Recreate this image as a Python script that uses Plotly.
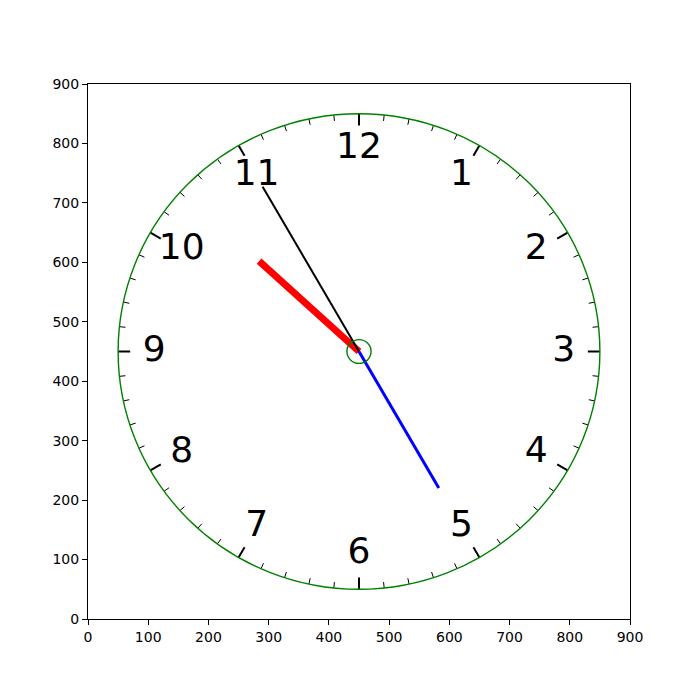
import math
import plotly.graph_objects as go

# Clock data
center = [450, 450]
clock_radius = 400
hour_labels = ["12", "1", "2", "3", "4", "5", "6", "7", "8", "9", "10", "11"]
label_radius = 340
n_ticks = 60
major_tick_len = 20
minor_tick_len = 10
hand_names = ["hour", "minute", "second"]
hand_angles_deg = [312.5, 150, 330]   # clockwise from 12 o'clock
hand_lengths = [225, 265, 320]
hand_colors = ["red", "blue", "black"]
hand_widths = [7, 3, 2]
hub_radius = 20
axis_ticks = [0, 100, 200, 300, 400, 500, 600, 700, 800, 900]

cx, cy = center
fig = go.Figure()

# tick marks
maj_x, maj_y, min_x, min_y = [], [], [], []
for i in range(n_ticks):
    a = math.radians(i * 6)
    L = major_tick_len if i % 5 == 0 else minor_tick_len
    r0, r1 = clock_radius - L, clock_radius
    xs = [cx + r0 * math.sin(a), cx + r1 * math.sin(a), None]
    ys = [cy + r0 * math.cos(a), cy + r1 * math.cos(a), None]
    if i % 5 == 0:
        maj_x += xs; maj_y += ys
    else:
        min_x += xs; min_y += ys
fig.add_trace(go.Scatter(x=min_x, y=min_y, mode="lines", line=dict(color="black", width=1), hoverinfo="skip"))
fig.add_trace(go.Scatter(x=maj_x, y=maj_y, mode="lines", line=dict(color="black", width=2), hoverinfo="skip"))

# hour labels
lx, ly = [], []
for i, lab in enumerate(hour_labels):
    a = math.radians(i * 30)
    lx.append(cx + label_radius * math.sin(a))
    ly.append(cy + label_radius * math.cos(a))
fig.add_trace(go.Scatter(x=lx, y=ly, mode="text", text=hour_labels,
                         textfont=dict(family="DejaVu Sans", size=36, color="black"),
                         textposition="middle center", hoverinfo="skip"))

# hands
for ang, L, col, w in zip(hand_angles_deg, hand_lengths, hand_colors, hand_widths):
    a = math.radians(ang)
    fig.add_trace(go.Scatter(x=[cx, cx + L * math.sin(a)], y=[cy, cy + L * math.cos(a)],
                             mode="lines", line=dict(color=col, width=w), hoverinfo="skip"))

# circles
fig.add_shape(type="circle", xref="x", yref="y",
              x0=cx - clock_radius, y0=cy - clock_radius, x1=cx + clock_radius, y1=cy + clock_radius,
              line=dict(color="green", width=1.4))
fig.add_shape(type="circle", xref="x", yref="y",
              x0=cx - hub_radius, y0=cy - hub_radius, x1=cx + hub_radius, y1=cy + hub_radius,
              line=dict(color="green", width=1.4))

axis_common = dict(range=[0, 900], tickmode="array", tickvals=axis_ticks,
                   ticktext=[str(t) for t in axis_ticks],
                   showgrid=False, zeroline=False, showline=True, linecolor="black",
                   linewidth=1, mirror=True, ticks="outside", ticklen=5, tickcolor="black",
                   tickfont=dict(family="DejaVu Sans", size=14, color="black"))
fig.update_xaxes(**axis_common)
fig.update_yaxes(**axis_common)
fig.update_layout(width=700, height=696, showlegend=False,
                  margin=dict(l=88, r=70, t=84, b=77),
                  plot_bgcolor="white", paper_bgcolor="white")
fig.write_html("out.html")
